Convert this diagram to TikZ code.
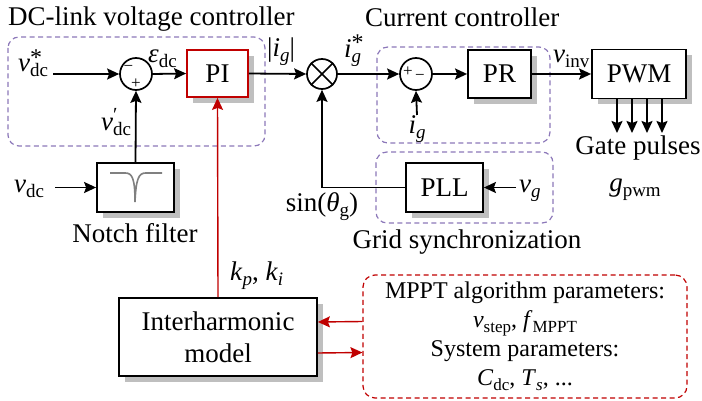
\documentclass[tikz,border=0pt]{standalone}
\usepackage{fontspec}
\setmainfont{Liberation Serif}
\usetikzlibrary{arrows.meta,shadows,calc}
\definecolor{dred}{RGB}{192,0,0}
\definecolor{lav}{RGB}{140,120,185}
\definecolor{shd}{RGB}{191,191,191}
\newcommand{\fa}{\fontsize{27}{32}\selectfont}
\newcommand{\fb}{\fontsize{24}{29}\selectfont}
\newcommand{\lsb}[1]{\raisebox{-5pt}{\fontsize{19}{19}\selectfont #1}}
\newcommand{\ssb}[1]{\raisebox{-4.5pt}{\fontsize{17}{17}\selectfont #1}}
\newcommand{\refstar}{\rlap{\raisebox{6pt}{\fontsize{24}{24}\selectfont *}}}
\newcommand{\iv}[1]{\textit{#1}}
\begin{document}
\begin{tikzpicture}[x=1pt,y=-1pt,
  >={Stealth[length=12pt,width=11pt,inset=2pt]},
  blk/.style={draw, line width=1.8pt, fill=white, inner sep=0pt, font=\fa,
    general shadow={fill=shd, shadow xshift=6pt, shadow yshift=-6pt}},
  sumc/.style={draw, circle, line width=1.7pt, minimum size=32pt, inner sep=0pt, fill=white},
  grp/.style={draw=lav, dash pattern=on 5pt off 3.5pt, rounded corners=11pt, line width=1.2pt},
  lbl/.style={inner sep=0pt, font=\fa},
  sgn/.style={inner sep=0pt, font=\fontsize{17}{17}\selectfont},
  sig/.style={line width=1.8pt, ->},
  rsig/.style={line width=1.4pt, ->, draw=dred, color=dred}]
\useasboundingbox (0,0) rectangle (702,401);

% group frames
\draw[grp] (8,37) rectangle (265,146);
\draw[grp] (377,47) rectangle (550,143);
\draw[grp] (376,152) rectangle (553,223);

\node[lbl, anchor=base west] (t1) at (8,26) {DC-link voltage controller};
\node[lbl, anchor=base west] (t2) at (365,27) {Current controller};

% DC-link controller
\node[lbl, anchor=base west] (vref) at (18,72) {\iv{v}\refstar\lsb{dc}};
\coordinate (vin) at (53,74);
\node[sumc] (s1) at (136,74) {};
\node[sgn] (s1m) at (128.5,68) {−};
\node[sgn] (s1p) at (136,84) {+};
\node[blk, draw=dred, minimum width=61pt, minimum height=47pt] (pi) at (217.5,73.5) {PI};
\node[lbl, anchor=base west] (eps) at (148,63) {\iv{ε}\lsb{dc}};
\node[lbl, anchor=base west] (ig1) at (267,57) {|\iv{i}\lsb{\iv{g}}|};
\node[sumc, minimum size=30pt] (mul) at (322,74) {};
\draw[line width=1.5pt] (mul.north west) -- (mul.south east);
\draw[line width=1.5pt] (mul.north east) -- (mul.south west);

% current controller
\node[lbl, anchor=base west] (igs) at (344,58) {\iv{i}\rlap{\raisebox{7pt}{\fontsize{24}{24}\selectfont *}}\lsb{\iv{g}}};
\node[sumc] (s2) at (416,74) {};
\node[sgn] (s2p) at (408,72) {+};
\node[sgn] (s2m) at (420,77) {−};
\node[lbl, anchor=north] (ig2) at (417,115) {\iv{i}\lsb{\iv{g}}};
\node[blk, minimum width=63pt, minimum height=48pt] (pr) at (499.5,74) {PR};
\node[lbl, anchor=base west] (vinv) at (553,63) {\iv{v}\lsb{inv}};
\node[blk, minimum width=94pt, minimum height=49pt] (pwm) at (639,74) {PWM};
\foreach \gx [count=\k] in {617,632,647,662}{
  \coordinate (g\k) at (\gx,133);
  \draw[sig] (pwm.south -| g\k) -- (g\k);
}
\node[lbl] (gp) at (638,148) {Gate pulses};
\node[lbl] (gpwm) at (635,190) {\iv{g}\lsb{pwm}};

% notch filter
\node[blk, minimum width=77pt, minimum height=49pt] (nf) at (135.5,187.5) {};
\begin{scope}[shift={(nf.center)}]
  \draw[line width=1.6pt, black!50] (-25.5,-14.5) -- (-10,-14.5)
    .. controls (-3,-14.5) and (-0.5,-8) .. (-0.5,14.5)
    .. controls (0.5,-8) and (3,-14.5) .. (10,-14.5) -- (26.5,-14.5);
\end{scope}
\node[lbl, anchor=base west] (vdc) at (14,193) {\iv{v}\lsb{dc}};
\coordinate (vdcin) at (55,187.5);
\node[lbl] (nft) at (135,233) {Notch filter};
\node[lbl, anchor=base west] (vdp) at (101,131) {\iv{v}\rlap{\raisebox{9pt}{\fontsize{20}{20}\selectfont ′}}\lsb{dc}};

% PLL
\node[blk, minimum width=77pt, minimum height=49pt] (pll) at (444.5,187.5) {PLL};
\node[lbl, anchor=base west] (vg) at (519,193) {\iv{v}\lsb{\iv{g}}};
\coordinate (vgin) at (516,187.5);
\node[lbl] (sin) at (322,207) {sin(\iv{θ}\lsb{g})};
\node[lbl] (gs) at (467,242) {Grid synchronization};

% interharmonic model
\node[blk, minimum width=198pt, minimum height=78pt, align=center] (ih) at (218,337) {Interharmonic\\model};
\node[lbl, anchor=base west] (kk) at (230,280) {\iv{k}\lsb{\iv{p}}, \iv{k}\lsb{\iv{i}}};
\node[draw=dred, line width=1.2pt, dash pattern=on 5pt off 3.5pt, rounded corners=12pt,
  minimum width=324pt, minimum height=123pt, align=center, font=\fb, inner sep=0pt] (mp) at (525,336.5)
  {MPPT algorithm parameters:\\ \iv{v}\ssb{step}, \iv{f}\ssb{MPPT}\\ System parameters:\\ \iv{C}\ssb{dc}, \iv{T}\ssb{\iv{s}}, ...};

% signals
\draw[sig] (vin) -- (s1.west);
\draw[sig] (s1.east) -- (pi.west);
\draw[sig] (pi.east) -- (mul.west);
\draw[sig] (mul.east) -- (s2.west);
\draw[sig] (s2.east) -- (pr.west);
\draw[sig] (pr.east) -- (pwm.west);
\draw[sig] (ig2.north) -- (s2.south);
\draw[sig] (nf.north) -- (s1.south);
\draw[sig] (vdcin) -- (nf.west);
\draw[sig] (vgin) -- (pll.east);
\draw[sig] (pll.west) -| (mul.south);
\draw[rsig] (ih.north) -- (pi.south);
\draw[rsig] ([yshift=15pt]mp.west) -- ([yshift=15pt]ih.east);
\draw[rsig] ([yshift=-16pt]ih.east) -- ([yshift=-16pt]mp.west);
\end{tikzpicture}
\end{document}
